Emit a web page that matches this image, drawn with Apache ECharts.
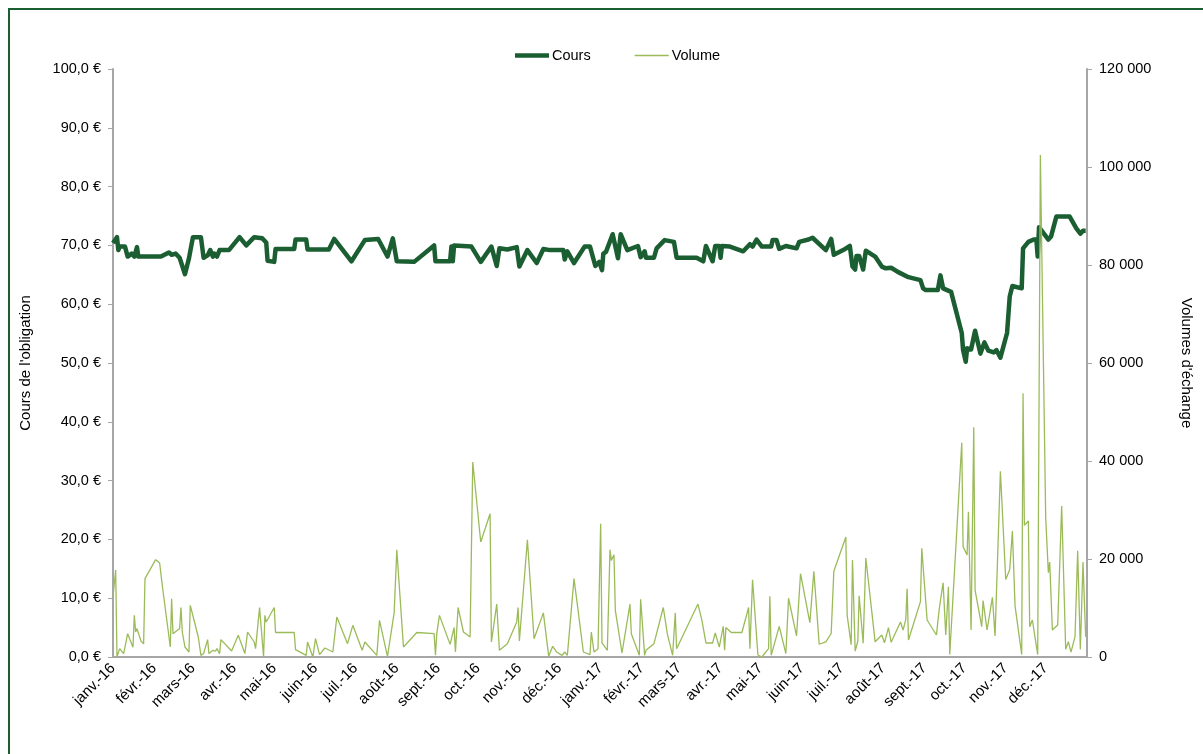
<!DOCTYPE html>
<html>
<head>
<meta charset="utf-8">
<script src="https://cdn.jsdelivr.net/npm/echarts@6/dist/echarts.min.js"></script>
<style>
  html, body { margin: 0; padding: 0; background: #fff; }
  #frame { position: absolute; left: 8px; top: 8px; width: 1200px; height: 750px; border-left: 2px solid #1a5e32; border-top: 2px solid #1a5e32; }
  #chart { position: absolute; left: 0; top: 0; width: 1203px; height: 754px; }
</style>
</head>
<body>
<div id="frame"></div>
<div id="chart"></div>
<script>
  // cours de l'obligation (€)
  const coursDates = [
    '2016-01-01', '2016-01-04', '2016-01-05', '2016-01-06', '2016-01-10', '2016-01-12', '2016-01-15', '2016-01-17', '2016-01-19', '2016-01-20',
    '2016-02-06', '2016-02-12', '2016-02-14', '2016-02-17', '2016-02-20', '2016-02-24', '2016-02-27', '2016-03-01', '2016-03-07', '2016-03-09',
    '2016-03-12', '2016-03-14', '2016-03-16', '2016-03-17', '2016-03-19', '2016-03-21', '2016-03-28', '2016-04-05', '2016-04-10', '2016-04-16',
    '2016-04-22', '2016-04-25', '2016-04-26', '2016-05-01', '2016-05-02', '2016-05-16', '2016-05-17', '2016-05-25', '2016-05-26', '2016-06-11',
    '2016-06-15', '2016-06-28', '2016-07-08', '2016-07-18', '2016-07-25', '2016-07-29', '2016-08-01', '2016-08-14', '2016-08-29', '2016-08-30',
    '2016-09-10', '2016-09-11', '2016-09-12', '2016-09-13', '2016-09-26', '2016-10-03', '2016-10-11', '2016-10-15', '2016-10-17', '2016-10-23',
    '2016-10-30', '2016-11-01', '2016-11-07', '2016-11-14', '2016-11-19', '2016-11-24', '2016-12-04', '2016-12-05', '2016-12-07', '2016-12-12',
    '2016-12-20', '2016-12-24', '2016-12-28', '2016-12-31', '2017-01-02', '2017-01-03', '2017-01-05', '2017-01-10', '2017-01-14', '2017-01-16',
    '2017-01-21', '2017-01-29', '2017-01-31', '2017-02-03', '2017-02-04', '2017-02-10', '2017-02-12', '2017-02-18', '2017-02-25', '2017-02-27',
    '2017-03-14', '2017-03-19', '2017-03-21', '2017-03-26', '2017-03-28', '2017-03-31', '2017-04-01', '2017-04-02', '2017-04-08', '2017-04-18',
    '2017-04-23', '2017-04-25', '2017-04-28', '2017-05-02', '2017-05-09', '2017-05-10', '2017-05-13', '2017-05-15', '2017-05-20', '2017-05-28',
    '2017-05-30', '2017-06-06', '2017-06-09', '2017-06-19', '2017-06-23', '2017-06-25', '2017-07-02', '2017-07-07', '2017-07-09', '2017-07-11',
    '2017-07-12', '2017-07-14', '2017-07-17', '2017-07-19', '2017-07-26', '2017-07-31', '2017-08-03', '2017-08-07', '2017-08-12', '2017-08-20',
    '2017-08-29', '2017-08-31', '2017-09-02', '2017-09-11', '2017-09-13', '2017-09-15', '2017-09-21', '2017-09-29', '2017-09-30', '2017-10-02',
    '2017-10-03', '2017-10-06', '2017-10-09', '2017-10-13', '2017-10-16', '2017-10-19', '2017-10-23', '2017-10-25', '2017-10-28', '2017-11-02',
    '2017-11-04', '2017-11-06', '2017-11-13', '2017-11-14', '2017-11-18', '2017-11-22', '2017-11-24', '2017-11-25', '2017-11-26', '2017-12-03',
    '2017-12-05', '2017-12-09', '2017-12-19', '2017-12-24', '2017-12-25', '2017-12-27', '2017-12-29', '2017-12-31'
  ];
  const coursValues = [
    70.4, 71.4, 69.2, 69.8, 69.8, 68.1, 68.6, 68.1, 69.7, 68.1,
    68.1, 68.8, 68.4, 68.6, 67.9, 65.1, 67.8, 71.4, 71.4, 67.9,
    68.3, 69.2, 68.1, 68.6, 68.1, 69.2, 69.2, 71.4, 70.0, 71.4,
    71.2, 70.5, 67.4, 67.2, 69.4, 69.4, 71.0, 71.0, 69.3, 69.3,
    71.1, 67.3, 70.9, 71.1, 68.1, 71.2, 67.3, 67.2, 70.0, 67.3,
    67.3, 69.8, 67.3, 70.0, 69.8, 67.2, 69.8, 66.5, 69.5, 69.3,
    69.7, 66.4, 69.2, 67.0, 69.4, 69.2, 69.2, 67.6, 69.0, 67.0,
    69.8, 69.8, 66.5, 67.2, 65.8, 68.6, 68.9, 71.9, 67.8, 71.9,
    69.2, 69.9, 68.0, 69.0, 67.9, 67.9, 69.5, 70.9, 70.6, 67.9,
    67.9, 67.3, 69.9, 67.3, 69.9, 69.9, 67.9, 69.9, 69.8, 69.0,
    70.2, 69.8, 71.0, 69.8, 69.8, 70.9, 70.9, 69.4, 69.9, 69.5,
    70.6, 71.0, 71.3, 69.2, 71.1, 68.4, 69.2, 69.9, 66.4, 65.9,
    68.2, 68.2, 65.9, 69.1, 68.1, 66.4, 66.1, 66.2, 65.5, 64.6,
    64.1, 62.7, 62.4, 62.4, 64.9, 62.7, 62.1, 55.1, 52.2, 50.2,
    52.5, 52.3, 55.5, 51.6, 53.5, 52.1, 51.8, 52.2, 50.9, 55.1,
    61.3, 63.1, 62.7, 69.5, 70.6, 71.0, 71.0, 68.1, 73.1, 71.0,
    71.5, 74.9, 74.9, 72.9, 73.0, 72.0, 72.5, 72.5
  ];

  // volumes d'échange
  const volDates = [
    '2016-01-01', '2016-01-03', '2016-01-04', '2016-01-06', '2016-01-09', '2016-01-12', '2016-01-16', '2016-01-17', '2016-01-18', '2016-01-19',
    '2016-01-22', '2016-01-24', '2016-01-25', '2016-02-02', '2016-02-05', '2016-02-07', '2016-02-13', '2016-02-14', '2016-02-15', '2016-02-20',
    '2016-02-21', '2016-02-22', '2016-02-24', '2016-02-27', '2016-02-28', '2016-03-05', '2016-03-07', '2016-03-09', '2016-03-12', '2016-03-13',
    '2016-03-16', '2016-03-18', '2016-03-19', '2016-03-21', '2016-03-22', '2016-03-30', '2016-04-04', '2016-04-09', '2016-04-11', '2016-04-16',
    '2016-04-17', '2016-04-20', '2016-04-23', '2016-04-24', '2016-04-25', '2016-05-01', '2016-05-02', '2016-05-16', '2016-05-17', '2016-05-25',
    '2016-05-26', '2016-05-30', '2016-06-01', '2016-06-04', '2016-06-08', '2016-06-14', '2016-06-17', '2016-06-25', '2016-06-29', '2016-07-06',
    '2016-07-08', '2016-07-17', '2016-07-19', '2016-07-25', '2016-07-30', '2016-08-01', '2016-08-06', '2016-08-16', '2016-08-29', '2016-08-30',
    '2016-08-31', '2016-09-02', '2016-09-10', '2016-09-13', '2016-09-14', '2016-09-16', '2016-09-20', '2016-09-25', '2016-09-27', '2016-10-03',
    '2016-10-10', '2016-10-11', '2016-10-15', '2016-10-17', '2016-10-23', '2016-10-30', '2016-10-31', '2016-11-01', '2016-11-07', '2016-11-12',
    '2016-11-19', '2016-11-23', '2016-11-26', '2016-11-29', '2016-12-03', '2016-12-05', '2016-12-07', '2016-12-12', '2016-12-19', '2016-12-24',
    '2016-12-25', '2016-12-27', '2016-12-30', '2017-01-01', '2017-01-02', '2017-01-06', '2017-01-08', '2017-01-09', '2017-01-11', '2017-01-12',
    '2017-01-17', '2017-01-23', '2017-01-24', '2017-01-30', '2017-01-31', '2017-02-03', '2017-02-04', '2017-02-10', '2017-02-17', '2017-02-20',
    '2017-02-24', '2017-02-26', '2017-02-27', '2017-03-15', '2017-03-18', '2017-03-21', '2017-03-26', '2017-03-28', '2017-03-31', '2017-04-03',
    '2017-04-04', '2017-04-05', '2017-04-09', '2017-04-17', '2017-04-22', '2017-04-23', '2017-04-25', '2017-04-29', '2017-05-02', '2017-05-07',
    '2017-05-08', '2017-05-09', '2017-05-15', '2017-05-20', '2017-05-22', '2017-05-28', '2017-05-31', '2017-06-07', '2017-06-10', '2017-06-14',
    '2017-06-19', '2017-06-23', '2017-06-25', '2017-07-04', '2017-07-05', '2017-07-08', '2017-07-09', '2017-07-11', '2017-07-13', '2017-07-14',
    '2017-07-17', '2017-07-19', '2017-07-26', '2017-07-31', '2017-08-02', '2017-08-05', '2017-08-07', '2017-08-14', '2017-08-16', '2017-08-18',
    '2017-08-19', '2017-08-20', '2017-08-29', '2017-08-30', '2017-09-03', '2017-09-10', '2017-09-12', '2017-09-15', '2017-09-17', '2017-09-19',
    '2017-09-20', '2017-09-29', '2017-09-30', '2017-10-03', '2017-10-04', '2017-10-06', '2017-10-08', '2017-10-09', '2017-10-14', '2017-10-15',
    '2017-10-18', '2017-10-22', '2017-10-24', '2017-10-28', '2017-11-01', '2017-11-04', '2017-11-06', '2017-11-08', '2017-11-13', '2017-11-14',
    '2017-11-15', '2017-11-18', '2017-11-19', '2017-11-21', '2017-11-25', '2017-11-27', '2017-12-01', '2017-12-03', '2017-12-04', '2017-12-06',
    '2017-12-10', '2017-12-13', '2017-12-16', '2017-12-18', '2017-12-20', '2017-12-23', '2017-12-25', '2017-12-27', '2017-12-29', '2017-12-31'
  ];
  const volValues = [
    12300, 17750, 0, 1700, 700, 4760, 2000, 8500, 5100, 5800,
    3260, 2720, 16000, 19870, 19180, 14600, 2040, 11900, 4760, 5800,
    10100, 5100, 2040, 1020, 10550, 4080, 340, 700, 3540, 700,
    1360, 1220, 1700, 700, 3540, 1220, 4420, 700, 5100, 3060,
    1700, 10100, 0, 8500, 7140, 10100, 5000, 5000, 1500, 340,
    3060, 0, 3740, 500, 1840, 1020, 8160, 2720, 6460, 1360,
    3060, 340, 7480, 140, 9000, 21900, 2040, 5000, 4760, 340,
    4760, 8500, 2580, 6000, 1020, 10100, 5100, 4080, 39800, 23470,
    29250, 3060, 10800, 1360, 2720, 7140, 10100, 3260, 23930, 3740,
    9000, 140, 2180, 1020, 340, 1020, 340, 16000, 1020, 500,
    5100, 1020, 1700, 27200, 2860, 1360, 21900, 19720, 20870, 9520,
    820, 10800, 4760, 340, 11800, 340, 1360, 2720, 10100, 4760,
    340, 9000, 1700, 10800, 7480, 2860, 2860, 4900, 2040, 6260,
    1360, 6000, 5000, 5000, 10100, 1700, 15780, 410, 0, 1700,
    12400, 340, 6260, 700, 12000, 4300, 17000, 7000, 17500, 2600,
    3100, 4800, 17500, 24500, 8500, 2500, 19800, 1200, 3260, 12500,
    2800, 20200, 3100, 4500, 2900, 6000, 3000, 7140, 5500, 7690,
    13950, 3470, 11300, 22170, 7550, 4490, 9590, 15160, 4490, 14350,
    500, 43730, 22520, 20800, 29640, 5510, 46870, 13670, 6190, 11500,
    5510, 12180, 4290, 37890, 15830, 17880, 25710, 10430, 500, 53800,
    26870, 27750, 6190, 7550, 500, 102440, 28430, 17200, 19380, 5510,
    6530, 30820, 1560, 3130, 1000, 4150, 21700, 1560, 19380, 4150
  ];

  const moisLabels = ['janv.', 'févr.', 'mars', 'avr.', 'mai', 'juin', 'juil.', 'août', 'sept.', 'oct.', 'nov.', 'déc.'];

  const darkGreen = '#1a5e32';
  const lightGreen = '#9bbb59';
  const axisGrey = '#a6a6a6';
  const font = 'Liberation Sans, Arial, sans-serif';

  let myChart = echarts.init(document.getElementById('chart'));
  myChart.setOption({
    animation: false,
    textStyle: {fontFamily: font},
    grid: {left: 113, right: 116, top: 69, bottom: 97, containLabel: false},
    legend: {
      top: 43,
      left: 510,
      itemGap: 44,
      itemWidth: 34,
      itemHeight: 10,
      textStyle: {fontSize: 14.5, color: '#000', fontFamily: font, padding: [0, 0, 0, -2]},
      data: [
        {name: 'Cours', icon: 'path://M0,0 L34,0 L34,4.5 L0,4.5 Z', itemStyle: {color: darkGreen}},
        {name: 'Volume', icon: 'path://M0,0 L34,0 L34,1.6 L0,1.6 Z', itemStyle: {color: lightGreen}}
      ]
    },
    xAxis: {
      type: 'time',
      min: '2016-01-01',
      max: '2018-01-01',
      minInterval: 28 * 24 * 3600 * 1000,
      maxInterval: 31 * 24 * 3600 * 1000,
      splitLine: {show: false},
      axisLine: {lineStyle: {color: axisGrey, width: 2}},
      axisTick: {show: false},
      axisLabel: {
        rotate: 45,
        fontSize: 15,
        color: '#000',
        margin: 9,
        showMaxLabel: false,
        hideOverlap: false,
        formatter: function (value) {
          let d = new Date(value);
          if (d.getFullYear() > 2017) return '';
          return moisLabels[d.getMonth()] + '-' + String(d.getFullYear()).slice(2);
        }
      }
    },
    yAxis: [{
      type: 'value',
      min: 0,
      max: 100,
      interval: 10,
      name: "Cours de l'obligation",
      nameLocation: 'middle',
      nameGap: 80,
      nameTextStyle: {fontSize: 15, color: '#000'},
      splitLine: {show: false},
      axisLine: {show: true, lineStyle: {color: axisGrey, width: 2}},
      axisTick: {show: true, length: 5, lineStyle: {color: axisGrey}},
      axisLabel: {
        fontSize: 14.5,
        color: '#000',
        margin: 12,
        formatter: v => v.toFixed(1).replace('.', ',') + ' €'
      }
    }, {
      type: 'value',
      min: 0,
      max: 120000,
      interval: 20000,
      name: "Volumes d'échange",
      nameLocation: 'middle',
      nameGap: 92,
      nameRotate: -90,
      nameTextStyle: {fontSize: 15, color: '#000'},
      splitLine: {show: false},
      axisLine: {show: true, lineStyle: {color: axisGrey, width: 2}},
      axisTick: {show: true, length: 5, lineStyle: {color: axisGrey}},
      axisLabel: {
        fontSize: 14.5,
        color: '#000',
        margin: 12,
        formatter: v => String(v).replace(/\B(?=(\d{3})+(?!\d))/g, ' ')
      }
    }],
    series: [{
      name: 'Cours',
      type: 'line',
      yAxisIndex: 0,
      showSymbol: false,
      z: 2,
      data: coursDates.map((d, i) => [d, coursValues[i]]),
      lineStyle: {color: darkGreen, width: 4.5, join: 'round'},
      itemStyle: {color: darkGreen}
    }, {
      name: 'Volume',
      type: 'line',
      yAxisIndex: 1,
      showSymbol: false,
      z: 3,
      data: volDates.map((d, i) => [d, volValues[i]]),
      lineStyle: {color: lightGreen, width: 1.3},
      itemStyle: {color: lightGreen}
    }]
  });
</script>
</body>
</html>
